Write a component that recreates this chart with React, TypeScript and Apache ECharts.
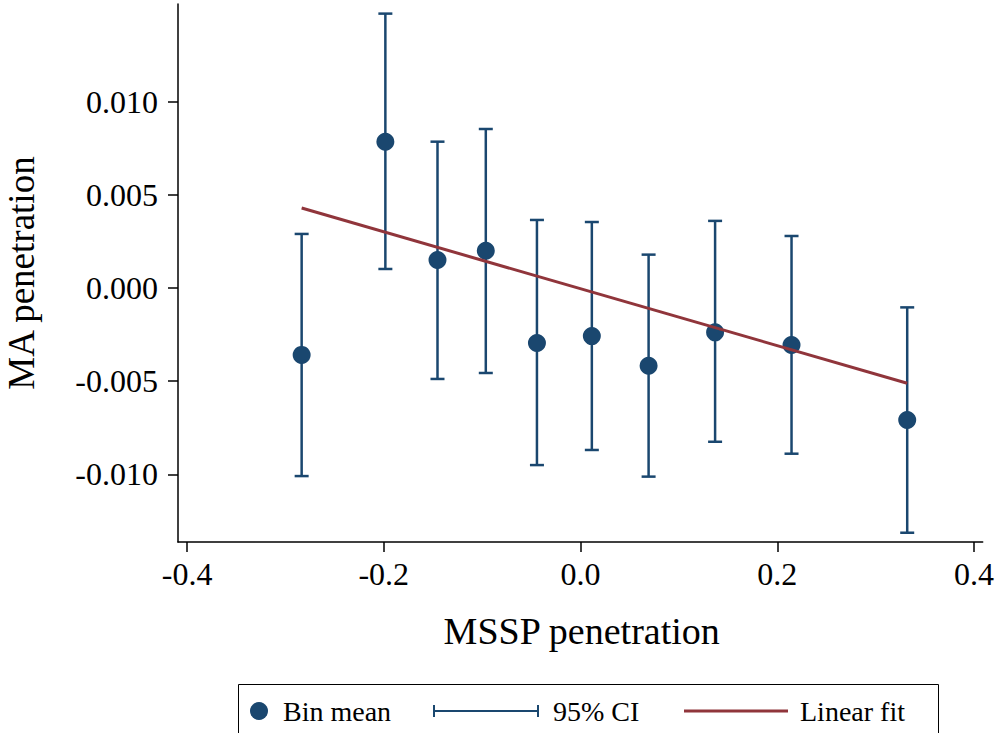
import React, { useEffect, useRef } from "react";
import * as echarts from "echarts";

const binX = [-0.2835, -0.1984, -0.1454, -0.0963, -0.0443, 0.0115, 0.0692, 0.1368, 0.2145, 0.3321];
const binMean = [-0.00359, 0.00785, 0.0015, 0.002, -0.00295, -0.00258, -0.00417, -0.00238, -0.00306, -0.00708];
const ciLow = [-0.01009, 0.00102, -0.00488, -0.00456, -0.0095, -0.00869, -0.01012, -0.00825, -0.00889, -0.01313];
const ciHigh = [0.0029, 0.01472, 0.00785, 0.00853, 0.00365, 0.00354, 0.00179, 0.0036, 0.00279, -0.00104];
const fitX = [-0.2835, 0.3321];
const fitY = [0.00429, -0.00511];
const xTicks = [-0.4, -0.2, 0, 0.2, 0.4];
const yTicks = [-0.01, -0.005, 0, 0.005, 0.01];

const NAVY = "#1a476f";
const MAROON = "#90353b";
const FONT = "Liberation Serif";

export default function App() {
  const ref = useRef<HTMLDivElement>(null);
  useEffect(() => {
    if (!ref.current) return;
    const chart = echarts.init(ref.current, undefined, { renderer: "svg" });
    const axisCommon = {
      type: "value" as const,
      axisLine: { show: true, onZero: false, lineStyle: { color: "#000", width: 1.5 } },
      axisTick: { show: true, inside: false, length: 10, lineStyle: { color: "#000", width: 1.5 } },
      splitLine: { show: false },
    };
    chart.setOption({
      animation: false,
      backgroundColor: "#fff",
      grid: { left: 178, top: 4, width: 807, height: 538, containLabel: false },
      xAxis: {
        ...axisCommon,
        min: -0.4092,
        max: 0.4088,
        axisTick: { ...axisCommon.axisTick, customValues: xTicks },
        axisLabel: {
          customValues: xTicks,
          formatter: (v: number) => v.toFixed(1),
          fontFamily: FONT,
          fontSize: 32,
          color: "#000",
          margin: 16,
        },
      },
      yAxis: {
        ...axisCommon,
        min: -0.013627,
        max: 0.015236,
        axisTick: { ...axisCommon.axisTick, customValues: yTicks },
        axisLabel: {
          customValues: yTicks,
          formatter: (v: number) => v.toFixed(3),
          fontFamily: FONT,
          fontSize: 32,
          color: "#000",
          margin: 20,
        },
      },
      series: [
        {
          type: "custom",
          name: "95% CI",
          data: binX.map((x, i) => [x, ciLow[i], ciHigh[i]]),
          encode: { x: 0, y: [1, 2] },
          renderItem: (params: any, api: any) => {
            const x = api.value(0);
            const lo = api.coord([x, api.value(1)]);
            const hi = api.coord([x, api.value(2)]);
            const hw = 7;
            const style = { stroke: NAVY, lineWidth: 2.5 };
            return {
              type: "group",
              children: [
                { type: "line", shape: { x1: lo[0], y1: lo[1], x2: hi[0], y2: hi[1] }, style },
                { type: "line", shape: { x1: lo[0] - hw, y1: lo[1], x2: lo[0] + hw, y2: lo[1] }, style },
                { type: "line", shape: { x1: hi[0] - hw, y1: hi[1], x2: hi[0] + hw, y2: hi[1] }, style },
              ],
            };
          },
          z: 1,
        },
        {
          type: "scatter",
          name: "Bin mean",
          data: binX.map((x, i) => [x, binMean[i]]),
          symbol: "circle",
          symbolSize: 18,
          itemStyle: { color: NAVY, opacity: 1 },
          z: 2,
        },
        {
          type: "line",
          name: "Linear fit",
          data: fitX.map((x, i) => [x, fitY[i]]),
          showSymbol: false,
          symbol: "none",
          lineStyle: { color: MAROON, width: 3 },
          z: 3,
        },
      ],
      graphic: [
        {
          type: "text",
          x: 21,
          y: 273,
          rotation: Math.PI / 2,
          style: {
            text: "MA penetration",
            fontFamily: FONT,
            fontSize: 37,
            fill: "#000",
            align: "center",
            verticalAlign: "middle",
          },
        },
        {
          type: "text",
          x: 581.7,
          y: 631,
          style: {
            text: "MSSP penetration",
            fontFamily: FONT,
            fontSize: 38,
            fill: "#000",
            align: "center",
            verticalAlign: "middle",
          },
        },
        {
          type: "rect",
          shape: { x: 238.5, y: 684.5, width: 700, height: 100 },
          style: { fill: "#fff", stroke: "#000", lineWidth: 1 },
        },
        { type: "circle", shape: { cx: 259, cy: 711, r: 9 }, style: { fill: NAVY } },
        {
          type: "text",
          x: 283,
          y: 711,
          style: { text: "Bin mean", fontFamily: FONT, fontSize: 28, fill: "#000", verticalAlign: "middle" },
        },
        { type: "line", shape: { x1: 434, y1: 711, x2: 538, y2: 711 }, style: { stroke: NAVY, lineWidth: 2 } },
        { type: "line", shape: { x1: 434, y1: 705, x2: 434, y2: 717 }, style: { stroke: NAVY, lineWidth: 2 } },
        { type: "line", shape: { x1: 538, y1: 705, x2: 538, y2: 717 }, style: { stroke: NAVY, lineWidth: 2 } },
        {
          type: "text",
          x: 553,
          y: 711,
          style: { text: "95% CI", fontFamily: FONT, fontSize: 28, fill: "#000", verticalAlign: "middle" },
        },
        { type: "line", shape: { x1: 684, y1: 711, x2: 788, y2: 711 }, style: { stroke: MAROON, lineWidth: 3 } },
        {
          type: "text",
          x: 800,
          y: 711,
          style: { text: "Linear fit", fontFamily: FONT, fontSize: 28, fill: "#000", verticalAlign: "middle" },
        },
      ],
    });
    return () => chart.dispose();
  }, []);
  return (
    <div
      ref={ref}
      style={{ position: "fixed", left: 0, top: 0, width: 997, height: 733, background: "#fff" }}
    />
  );
}
